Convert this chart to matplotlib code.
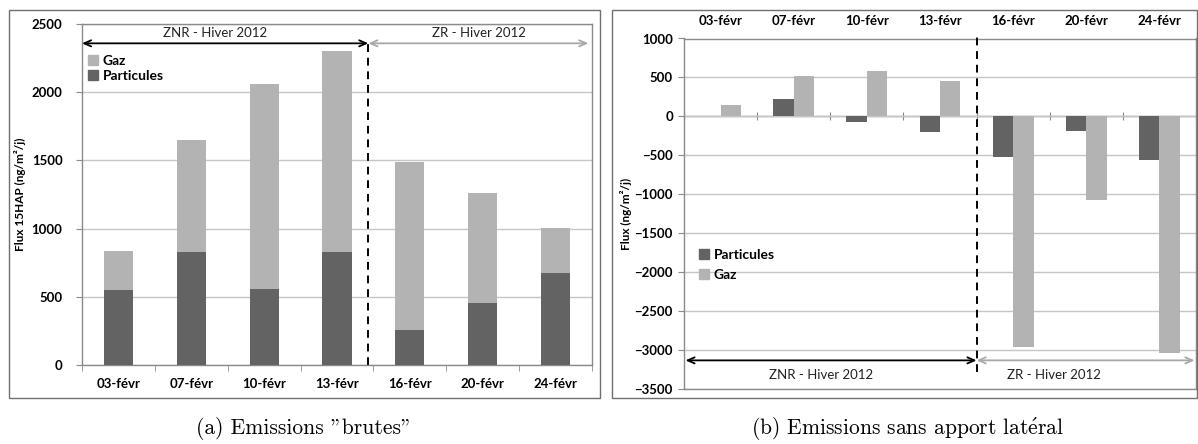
import matplotlib
matplotlib.use('Agg')
import matplotlib.pyplot as plt
import numpy as np
from matplotlib.patches import Rectangle, Patch
from matplotlib.ticker import NullFormatter

# ---------------- data ----------------
dates = ['03-févr', '07-févr', '10-févr', '13-févr', '16-févr', '20-févr', '24-févr']
brut_particules = [551, 832, 561, 829, 258, 456, 676]
brut_gaz = [286, 818, 1496, 1472, 1232, 805, 329]
net_particules = [10, 226, -69, -206, -519, -185, -562]
net_gaz = [145, 522, 582, 454, -2961, -1080, -3039]
zone_labels = ['ZNR - Hiver 2012', 'ZR - Hiver 2012']
captions = ['(a) Emissions "brutes"', '(b) Emissions sans apport lat$\\mathrm{\\acute{e}}$ral']
ylabel_a = 'Flux 15HAP (ng/m²/j)'
ylabel_b = 'Flux (ng/m²/j)'

DARK = '#636363'
LIGHT = '#b3b3b3'
GRID = '#c6c6c6'
SPINE = '#8a8a8a'
FRAME = '#707070'
ARROW_GREY = '#a8a8a8'
TICK_FS = 9.5
LEG_FS = 10
YLAB_FS = 8.5

plt.rcParams['font.family'] = ['Lato', 'DejaVu Sans']
plt.rcParams['mathtext.fontset'] = 'cm'

W, H = 1198, 444
fig = plt.figure(figsize=(W / 100, H / 100), dpi=100)

def fx(px):
    return px / W

def fy(py):
    return 1 - py / H

# outer frames
for (x0, x1) in [(9, 600), (612, 1197)]:
    fig.patches.append(Rectangle((fx(x0), fy(398)), fx(x1 - x0), (398 - 10) / H,
                                 transform=fig.transFigure, fill=False,
                                 edgecolor=FRAME, lw=1.0, zorder=0))

x = np.arange(len(dates))
bounds = np.arange(len(dates) + 1) - 0.5

# ---------------- panel (a) ----------------
axa = fig.add_axes([fx(82), fy(365.3), fx(592 - 82), (365.3 - 23.8) / H])
axa.bar(x, brut_particules, width=0.4, color=DARK, zorder=3, label='Particules')
axa.bar(x, brut_gaz, width=0.4, bottom=brut_particules, color=LIGHT, zorder=3, label='Gaz')
axa.set_xlim(-0.5, len(dates) - 0.5)
axa.set_ylim(0, 2500)
axa.set_yticks(np.arange(0, 2501, 500))
axa.yaxis.grid(True, color=GRID, lw=1.0, zorder=0)
axa.set_axisbelow(True)
axa.set_xticks(x)
axa.set_xticklabels(dates, fontweight='bold', fontsize=TICK_FS)
axa.set_xticks(bounds, minor=True)
axa.tick_params(axis='x', which='major', length=0, pad=9)
axa.tick_params(axis='x', which='minor', length=4, color=SPINE, direction='out')
axa.tick_params(axis='y', length=4, color=SPINE, pad=10, labelsize=TICK_FS)
for lab in axa.get_yticklabels():
    lab.set_fontweight('bold')
for s in axa.spines.values():
    s.set_color(SPINE)
    s.set_linewidth(1.0)
axa.set_ylabel(ylabel_a, fontweight='bold', fontsize=YLAB_FS, labelpad=4)

div_a = 3.43
axa.vlines(div_a, 0, 2390, colors='black', linestyles=(0, (4, 3)), lw=1.4, zorder=5)
axa.annotate('', xy=(div_a, 2357), xytext=(-0.5, 2357),
             arrowprops=dict(arrowstyle='<->,head_length=0.5,head_width=0.22', color='black', lw=1.3,
                             shrinkA=0, shrinkB=0), zorder=6)
axa.annotate('', xy=(len(dates) - 0.55, 2357), xytext=(div_a, 2357),
             arrowprops=dict(arrowstyle='<->,head_length=0.5,head_width=0.22', color=ARROW_GREY, lw=1.3,
                             shrinkA=0, shrinkB=0), zorder=6)
axa.text(1.32, 2430, zone_labels[0], ha='center', va='center', fontsize=9.5, color='#222222')
axa.text(4.95, 2430, zone_labels[1], ha='center', va='center', fontsize=9.5, color='#222222')

axa.legend(handles=[Patch(color=LIGHT, label='Gaz'), Patch(color=DARK, label='Particules')],
           loc='upper left', bbox_to_anchor=(0.012, 0.91), frameon=False,
           prop={'weight': 'bold', 'size': LEG_FS}, handlelength=0.7, handleheight=0.7,
           handletextpad=0.35, labelspacing=0.25, borderpad=0, borderaxespad=0)

# ---------------- panel (b) ----------------
axb = fig.add_axes([fx(684), fy(388.7), fx(1196 - 684), (388.7 - 38.5) / H])
w = 0.28
axb.bar(x - w / 2, net_particules, width=w, color=DARK, zorder=3, label='Particules')
axb.bar(x + w / 2, net_gaz, width=w, color=LIGHT, zorder=3, label='Gaz')
axb.set_xlim(-0.5, len(dates) - 0.5)
ymin_b, ymax_b = -3500, 1000
axb.set_ylim(ymin_b, ymax_b)
axb.set_yticks(np.arange(ymin_b, ymax_b + 1, 500))
axb.yaxis.grid(True, color=GRID, lw=1.0, zorder=0)
axb.set_axisbelow(True)
axb.xaxis.tick_top()
axb.set_xticks(x)
axb.set_xticklabels(dates, fontweight='bold', fontsize=TICK_FS)
axb.tick_params(axis='x', which='major', length=0, pad=8)
axb.tick_params(axis='y', length=4, color=SPINE, pad=4, labelsize=TICK_FS)
for lab in axb.get_yticklabels():
    lab.set_fontweight('bold')
for s in axb.spines.values():
    s.set_color(SPINE)
    s.set_linewidth(1.0)
axb.set_ylabel(ylabel_b, fontweight='bold', fontsize=YLAB_FS, labelpad=2)

# zero line with category boundary ticks
zero_loc = (0 - ymin_b) / (ymax_b - ymin_b)
sec = axb.secondary_xaxis(zero_loc)
sec.set_xticks(bounds)
sec.xaxis.set_major_formatter(NullFormatter())
sec.tick_params(axis='x', length=6, direction='inout', color=SPINE,
                labelbottom=False, labeltop=False)
for s in sec.spines.values():
    s.set_color(SPINE)
    s.set_linewidth(1.0)

div_b = 3.5
axb.vlines(div_b, -3290, 1040, colors='black', linestyles=(0, (4, 3)), lw=1.4, zorder=5, clip_on=False)
axb.annotate('', xy=(div_b, -3136), xytext=(-0.48, -3136),
             arrowprops=dict(arrowstyle='<->,head_length=0.5,head_width=0.22', color='black', lw=1.3,
                             shrinkA=0, shrinkB=0), zorder=6)
axb.annotate('', xy=(len(dates) - 0.52, -3136), xytext=(div_b, -3136),
             arrowprops=dict(arrowstyle='<->,head_length=0.5,head_width=0.22', color=ARROW_GREY, lw=1.3,
                             shrinkA=0, shrinkB=0), zorder=6)
axb.text(1.38, -3325, zone_labels[0], ha='center', va='center', fontsize=9.5, color='#222222')
axb.text(4.56, -3325, zone_labels[1], ha='center', va='center', fontsize=9.5, color='#222222')

axb.legend(handles=[Patch(color=DARK, label='Particules'), Patch(color=LIGHT, label='Gaz')],
           loc='upper left', bbox_to_anchor=(0.03, 0.4), frameon=False,
           prop={'weight': 'bold', 'size': LEG_FS}, handlelength=0.7, handleheight=0.7,
           handletextpad=0.35, labelspacing=0.6, borderpad=0, borderaxespad=0)

# ---------------- captions ----------------
for cx, cap in zip([304, 908], captions):
    fig.text(fx(cx), fy(428), cap, ha='center', va='center', fontsize=15.5,
             family=['cmr10', 'DejaVu Serif'])

fig.savefig('out.png', dpi=100)
